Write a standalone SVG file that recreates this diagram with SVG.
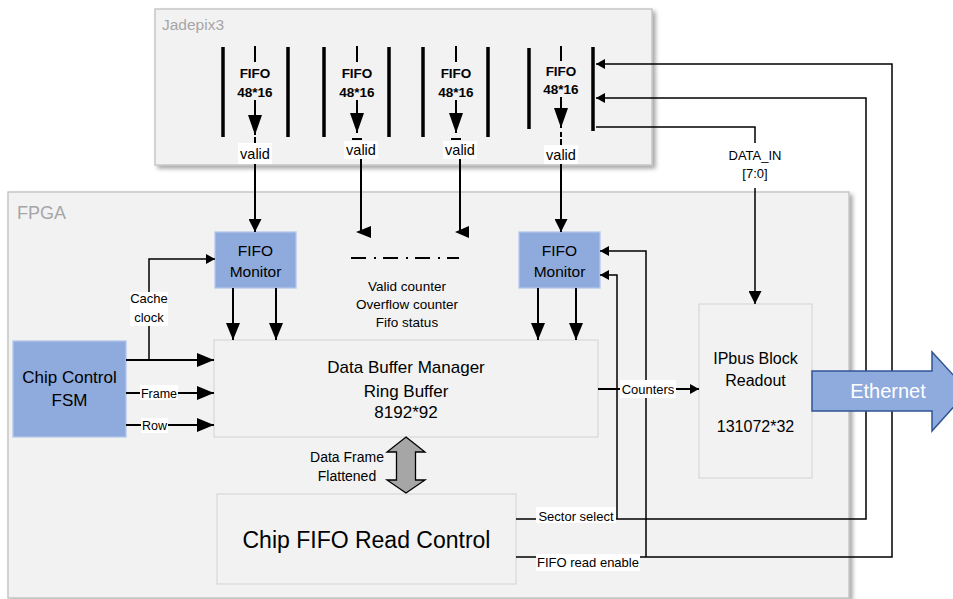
<svg xmlns="http://www.w3.org/2000/svg" width="953" height="599" viewBox="0 0 953 599">
<style>
text{font-family:"Liberation Sans",Arial,sans-serif;fill:#000}
.c{text-anchor:middle}
.grey{fill:#a6a6a6}
.box{fill:#f2f2f2;stroke:#d9d9d9;stroke-width:1.3}
.cont{fill:#f2f2f2;stroke:#bfbfbf;stroke-width:1.3}
.blue{fill:#8faadc;stroke:#b4c7e7;stroke-width:1.3}
.ln{stroke:#000;stroke-width:2;fill:none}
.tn{stroke:#000;stroke-width:1.5;fill:none}
.bar{stroke:#000;stroke-width:3.5}
.lbl{fill:#fff}
.fifo{font-weight:bold;font-size:13.5px}
</style>
<defs>
<filter id="sh" x="-5%" y="-5%" width="110%" height="115%">
<feDropShadow dx="3" dy="3" stdDeviation="2" flood-color="#000" flood-opacity="0.35"/>
</filter>
<marker id="aj" markerUnits="userSpaceOnUse" markerWidth="20" markerHeight="14" refX="20" refY="7" orient="auto"><path d="M0,0 L20,7 L0,14 z" fill="#000"/></marker>
<marker id="ah" markerUnits="userSpaceOnUse" markerWidth="17" markerHeight="14" refX="17" refY="7" orient="auto"><path d="M0,0 L17,7 L0,14 z" fill="#000"/></marker>
<marker id="am" markerUnits="userSpaceOnUse" markerWidth="13" markerHeight="13" refX="13" refY="6.5" orient="auto"><path d="M0,0 L13,6.5 L0,13 z" fill="#000"/></marker>
<marker id="as" markerUnits="userSpaceOnUse" markerWidth="9" markerHeight="10" refX="9" refY="5" orient="auto"><path d="M0,0 L9,5 L0,10 z" fill="#000"/></marker>
</defs>
<rect width="953" height="599" fill="#fff"/>

<g id="jadepix3">
<rect class="cont" x="155" y="9" width="497" height="156" filter="url(#sh)"/>
<text x="162" y="30" class="grey" font-size="15.5">Jadepix3</text>
</g>
<g id="fpga">
<rect class="cont" x="8" y="192" width="841" height="406" filter="url(#sh)"/>
<text x="17" y="219" class="grey" font-size="18">FPGA</text>
</g>

<g id="fifo1">
<line class="bar" x1="223" y1="47" x2="223" y2="137"/>
<line class="bar" x1="288" y1="47" x2="288" y2="137"/>
<line class="ln" x1="255" y1="46" x2="255" y2="62"/>
<text x="255" y="78" class="c fifo">FIFO</text>
<text x="255" y="97" class="c fifo">48*16</text>
<line class="ln" x1="255" y1="100" x2="255" y2="135" marker-end="url(#aj)"/>
</g>
<g id="fifo2">
<line class="bar" x1="324" y1="47" x2="324" y2="137"/>
<line class="bar" x1="389" y1="47" x2="389" y2="137"/>
<line class="ln" x1="357" y1="46" x2="357" y2="62"/>
<text x="357" y="78" class="c fifo">FIFO</text>
<text x="357" y="97" class="c fifo">48*16</text>
<line class="ln" x1="357" y1="100" x2="357" y2="133" marker-end="url(#aj)"/>
</g>
<g id="fifo3">
<line class="bar" x1="423" y1="47" x2="423" y2="137"/>
<line class="bar" x1="488" y1="47" x2="488" y2="137"/>
<line class="ln" x1="456" y1="46" x2="456" y2="62"/>
<text x="456" y="78" class="c fifo">FIFO</text>
<text x="456" y="97" class="c fifo">48*16</text>
<line class="ln" x1="456" y1="100" x2="456" y2="133" marker-end="url(#aj)"/>
</g>
<g id="fifo4">
<line class="bar" x1="529" y1="48" x2="529" y2="129"/>
<line class="bar" x1="593" y1="47" x2="593" y2="131"/>
<line class="ln" x1="561" y1="46" x2="561" y2="61"/>
<text x="561" y="76" class="c fifo">FIFO</text>
<text x="561" y="94" class="c fifo">48*16</text>
<line class="ln" x1="561" y1="97" x2="561" y2="128" marker-end="url(#aj)"/>
</g>

<g id="fifo-monitor-1">
<rect class="blue" x="215" y="232" width="81" height="56"/>
<text x="255.5" y="256" class="c" font-size="15.5">FIFO</text>
<text x="255.5" y="277" class="c" font-size="15.5">Monitor</text>
</g>
<g id="fifo-monitor-2">
<rect class="blue" x="519" y="232" width="81" height="56"/>
<text x="559.5" y="256" class="c" font-size="15.5">FIFO</text>
<text x="559.5" y="277" class="c" font-size="15.5">Monitor</text>
</g>
<g id="data-buffer-manager">
<rect class="box" x="214" y="340" width="384" height="97"/>
<text x="406" y="373" class="c" font-size="17">Data Buffer Manager</text>
<text x="406" y="397" class="c" font-size="17">Ring Buffer</text>
<text x="406" y="418" class="c" font-size="17">8192*92</text>
</g>
<g id="chip-control-fsm">
<rect class="blue" x="13" y="341" width="113" height="96"/>
<text x="69.5" y="383" class="c" font-size="17">Chip Control</text>
<text x="69.5" y="406" class="c" font-size="17">FSM</text>
</g>
<g id="ipbus-block-readout">
<rect class="box" x="699" y="304" width="113" height="174"/>
<text x="755.5" y="364" class="c" font-size="16">IPbus Block</text>
<text x="755.5" y="386" class="c" font-size="16">Readout</text>
<text x="755.5" y="432" class="c" font-size="16">131072*32</text>
</g>
<g id="chip-fifo-read-control">
<rect class="box" x="217" y="494" width="299" height="90"/>
<text x="366.5" y="548" class="c" font-size="23">Chip FIFO Read Control</text>
</g>
<g id="status-counters">
<line x1="351" y1="258" x2="459" y2="258" stroke="#000" stroke-width="2" stroke-dasharray="15 8 2 7"/>
<text x="407" y="291" class="c" font-size="13.5">Valid counter</text>
<text x="407" y="309" class="c" font-size="13.5">Overflow counter</text>
<text x="407" y="327" class="c" font-size="13.5">Fifo status</text>
</g>

<g id="connectors">
<!-- valid lines -->
<line class="ln" x1="255" y1="137" x2="255" y2="143"/>
<line class="ln" x1="255" y1="160" x2="255" y2="232" marker-end="url(#am)"/>
<line class="ln" x1="352" y1="139" x2="362" y2="139"/>
<line class="ln" x1="361" y1="156" x2="361" y2="232"/>
<polygon points="356,232 371,226 371,238" fill="#000"/>
<line class="ln" x1="451" y1="139" x2="461" y2="139"/>
<line class="ln" x1="460" y1="156" x2="460" y2="232"/>
<polygon points="455,232 469,226 469,238" fill="#000"/>
<line class="ln" x1="561" y1="132" x2="561" y2="137"/>
<line class="ln" x1="561" y1="139" x2="561" y2="145"/>
<line class="ln" x1="561" y1="160" x2="561" y2="232" marker-end="url(#am)"/>
<!-- monitors to buffer -->
<line class="ln" x1="233" y1="288" x2="233" y2="340" marker-end="url(#ah)"/>
<line class="ln" x1="276" y1="288" x2="276" y2="340" marker-end="url(#ah)"/>
<line class="ln" x1="538" y1="288" x2="538" y2="340" marker-end="url(#ah)"/>
<line class="ln" x1="576" y1="288" x2="576" y2="340" marker-end="url(#ah)"/>
<!-- FSM -->
<line class="ln" x1="126" y1="360" x2="214" y2="360" marker-end="url(#ah)"/>
<polyline class="tn" points="149,360 149,259 215,259" marker-end="url(#as)"/>
<line class="ln" x1="126" y1="393" x2="214" y2="393" marker-end="url(#ah)"/>
<line class="ln" x1="126" y1="425" x2="214" y2="425" marker-end="url(#ah)"/>
<!-- counters -->
<line class="ln" x1="598" y1="389" x2="699" y2="389" marker-end="url(#as)"/>
<!-- DATA_IN -->
<polyline class="tn" points="596,127 755,127 755,304" marker-end="url(#am)"/>
<!-- sector select -->
<polyline class="tn" points="516,519 866,519 866,98 596,98" marker-end="url(#as)"/>
<polyline class="tn" points="617,519 617,275 600,275" marker-end="url(#as)"/>
<!-- fifo read enable -->
<polyline class="tn" points="516,557 892,557 892,64 596,64" marker-end="url(#as)"/>
<polyline class="tn" points="646,557 646,251 600,251" marker-end="url(#as)"/>
<!-- data frame double arrow -->
<polygon points="406,437 425,452 415.5,452 415.5,480 425,480 406,493 387,480 396.5,480 396.5,452 387,452" fill="#a6a6a6" stroke="#000" stroke-width="1.3"/>
<!-- labels -->
<rect class="lbl" x="238" y="143" width="34" height="21"/>
<text x="255" y="159" class="c" font-size="14.5">valid</text>
<rect class="lbl" x="344" y="141" width="34" height="18"/>
<text x="361" y="155" class="c" font-size="14.5">valid</text>
<rect class="lbl" x="443" y="141" width="34" height="18"/>
<text x="460" y="155" class="c" font-size="14.5">valid</text>
<rect class="lbl" x="544" y="145" width="34" height="19"/>
<text x="561" y="160" class="c" font-size="14.5">valid</text>
<rect class="lbl" x="130" y="292" width="38" height="34"/>
<text x="149" y="303" class="c" font-size="13">Cache</text>
<text x="149" y="322" class="c" font-size="13">clock</text>
<rect class="lbl" x="140" y="385" width="38" height="15"/>
<text x="159" y="398" class="c" font-size="12.5">Frame</text>
<rect class="lbl" x="141" y="418" width="27" height="15"/>
<text x="154.5" y="430" class="c" font-size="12.5">Row</text>
<rect class="lbl" x="620" y="380" width="56" height="18"/>
<text x="648" y="394" class="c" font-size="13">Counters</text>
<rect class="lbl" x="725" y="143" width="60" height="45"/>
<text x="755" y="160" class="c" font-size="13">DATA_IN</text>
<text x="755" y="178" class="c" font-size="13">[7:0]</text>
<text x="347" y="462" class="c" font-size="14">Data Frame</text>
<text x="347" y="481" class="c" font-size="14">Flattened</text>
<rect class="lbl" x="536" y="507" width="80" height="16"/>
<text x="576" y="521" class="c" font-size="13">Sector select</text>
<rect class="lbl" x="536" y="554" width="104" height="17"/>
<text x="588" y="567" class="c" font-size="13">FIFO read enable</text>
</g>

<g id="ethernet">
<polygon points="812,371 932,371 932,352 968,391 932,431 932,411 812,411" fill="#8faadc" stroke="#2f5597" stroke-width="1.5"/>
<text x="888" y="398" class="c" font-size="20" style="fill:#fff">Ethernet</text>
</g>
</svg>
